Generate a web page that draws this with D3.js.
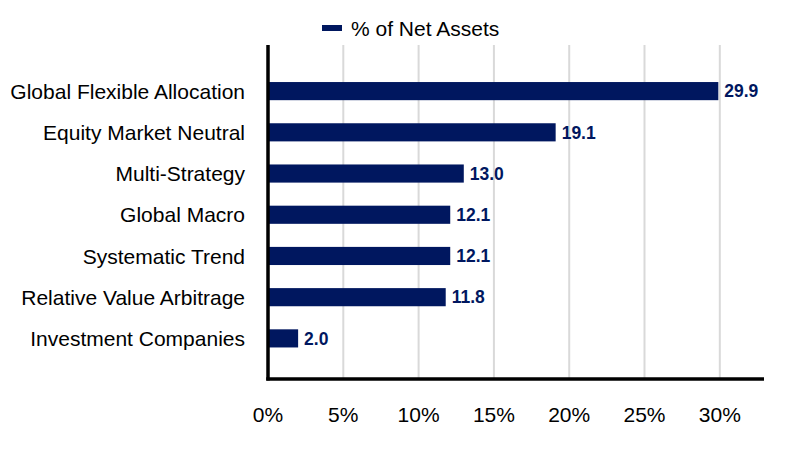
<!DOCTYPE html>
<html><head><meta charset="utf-8">
<script src="https://cdn.jsdelivr.net/npm/d3@7"></script>
<style>body{margin:0;background:#fff;}svg{display:block;font-family:"Liberation Sans",Arial,sans-serif;}</style>
</head><body>
<svg id="c" width="804" height="456"></svg>
<script>
const categories = ["Global Flexible Allocation","Equity Market Neutral","Multi-Strategy","Global Macro","Systematic Trend","Relative Value Arbitrage","Investment Companies"];
const values = [29.9,19.1,13.0,12.1,12.1,11.8,2.0];
const xTicks = [0,5,10,15,20,25,30];
const seriesName = "% of Net Assets";
const barColor = "#00175f";

const svg = d3.select("#c");
const x = d3.scaleLinear().domain([0,33]).range([268,765]);
const y = d3.scaleBand().domain(categories).range([70.5,359]).paddingInner(0.56).paddingOuter(0.28);
const plotTop = 45, plotBottom = 379;

// gridlines
svg.append("g").selectAll("line").data(xTicks.filter(d=>d>0)).join("line")
  .attr("x1",d=>x(d)).attr("x2",d=>x(d)).attr("y1",plotTop).attr("y2",plotBottom)
  .attr("stroke","#d9d9d9").attr("stroke-width",2);

// bars
svg.append("g").selectAll("rect").data(values).join("rect")
  .attr("x",x(0)).attr("y",(d,i)=>y(categories[i]))
  .attr("width",d=>x(d)-x(0)).attr("height",y.bandwidth())
  .attr("fill",barColor);

// value labels
svg.append("g").selectAll("text").data(values).join("text")
  .attr("x",d=>x(d)+6).attr("y",(d,i)=>y(categories[i])+y.bandwidth()/2)
  .attr("dy","0.36em").attr("font-size",17.5).attr("font-weight","bold")
  .attr("fill",barColor).text(d=>d.toFixed(1));

// y axis line
svg.append("line").attr("x1",268).attr("x2",268).attr("y1",plotTop).attr("y2",plotBottom+1.5)
  .attr("stroke","#000").attr("stroke-width",3.5);
// x axis line
svg.append("line").attr("x1",266.25).attr("x2",764).attr("y1",plotBottom).attr("y2",plotBottom)
  .attr("stroke","#000").attr("stroke-width",3.5);

// category labels
svg.append("g").selectAll("text").data(categories).join("text")
  .attr("x",245).attr("y",d=>y(d)+y.bandwidth()/2).attr("dy","0.36em")
  .attr("text-anchor","end").attr("font-size",21).attr("fill","#000").text(d=>d);

// x tick labels
svg.append("g").selectAll("text").data(xTicks).join("text")
  .attr("x",d=>x(d)).attr("y",422).attr("text-anchor","middle")
  .attr("font-size",21).attr("fill","#000").text(d=>d+"%");

// legend
svg.append("rect").attr("x",322).attr("y",25).attr("width",20).attr("height",6).attr("fill",barColor);
svg.append("text").attr("x",351).attr("y",36).attr("font-size",21).attr("fill","#000").text(seriesName);
</script>
</body></html>
